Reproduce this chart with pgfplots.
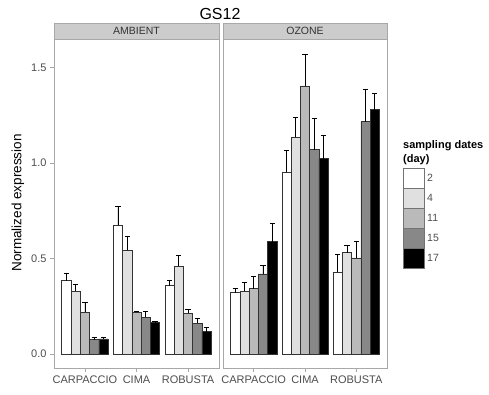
\documentclass[border=0pt]{standalone}
\usepackage{pgfplots}
\pgfplotsset{compat=1.18}
\usepackage{pgfplotstable}
\usepackage{fontspec}
\setmainfont{Liberation Sans}

\definecolor{cA}{HTML}{FFFFFF}
\definecolor{cB}{HTML}{E0E0E0}
\definecolor{cC}{HTML}{BABABA}
\definecolor{cD}{HTML}{888888}
\definecolor{cE}{HTML}{000000}
\definecolor{panelborder}{HTML}{A8A8A8}
\definecolor{stripfill}{HTML}{CCCCCC}
\definecolor{ticktext}{HTML}{4D4D4D}
\definecolor{barline}{HTML}{333333}

\pgfplotstableread{
x d2 e2 d4 e4 d11 e11 d15 e15 d17 e17
1 0.384 0.037 0.328 0.038 0.220 0.050 0.075 0.010 0.079 0.010
2 0.674 0.098 0.543 0.073 0.218 0.006 0.192 0.030 0.164 0.008
3 0.358 0.030 0.460 0.057 0.213 0.021 0.160 0.025 0.117 0.024
}\ambient

\pgfplotstableread{
x d2 e2 d4 e4 d11 e11 d15 e15 d17 e17
1 0.322 0.021 0.328 0.047 0.343 0.066 0.420 0.045 0.589 0.097
2 0.951 0.115 1.134 0.103 1.403 0.168 1.070 0.162 1.023 0.124
3 0.429 0.092 0.531 0.040 0.503 0.089 1.216 0.170 1.279 0.084
}\ozone

\pgfplotsset{
  panel/.style={
    scale only axis, height=329pt,
    xmin=0.4, xmax=3.6, ymin=-0.073, ymax=1.649,
    ybar, bar width=0.18,
    axis line style={panelborder, line width=0.7pt},
    xtick={1,2,3}, xticklabels={CARPACCIO,CIMA,ROBUSTA},
    xtick pos=bottom,
    tick align=outside, major tick length=4pt,
    tick style={panelborder, line width=0.7pt},
    ticklabel style={font=\fontsize{11}{13}\selectfont, text=ticktext},
    /pgf/number format/assume math mode=true,
    error bars/y dir=plus, error bars/y explicit,
    error bars/error bar style={line width=0.8pt, black},
    error bars/error mark=-,
    error bars/error mark options={rotate=90, line width=0.8pt, black, mark size=2.6pt},
  },
  bars/.style={draw=barline, line width=0.6pt, fill=#1},
}

\begin{document}
\begin{tikzpicture}
\useasboundingbox (0pt,0pt) rectangle (489pt,394pt);

% left panel
\begin{axis}[panel, at={(54pt,26pt)}, anchor=south west, width=165pt,
  ytick={0,0.5,1,1.5}, yticklabels={0.0,0.5,1.0,1.5}, ytick pos=left]
\addplot[bars=cA, bar shift=-0.36] table[x=x, y=d2, y error=e2]{\ambient};
\addplot[bars=cB, bar shift=-0.18] table[x=x, y=d4, y error=e4]{\ambient};
\addplot[bars=cC, bar shift=0] table[x=x, y=d11, y error=e11]{\ambient};
\addplot[bars=cD, bar shift=0.18] table[x=x, y=d15, y error=e15]{\ambient};
\addplot[bars=cE, bar shift=0.36] table[x=x, y=d17, y error=e17]{\ambient};
\end{axis}

% right panel
\begin{axis}[panel, at={(223pt,26pt)}, anchor=south west, width=164pt,
  ytick=\empty]
\addplot[bars=cA, bar shift=-0.36] table[x=x, y=d2, y error=e2]{\ozone};
\addplot[bars=cB, bar shift=-0.18] table[x=x, y=d4, y error=e4]{\ozone};
\addplot[bars=cC, bar shift=0] table[x=x, y=d11, y error=e11]{\ozone};
\addplot[bars=cD, bar shift=0.18] table[x=x, y=d15, y error=e15]{\ozone};
\addplot[bars=cE, bar shift=0.36] table[x=x, y=d17, y error=e17]{\ozone};
\end{axis}

% strips
\draw[fill=stripfill, draw=panelborder, line width=0.7pt] (54pt,355pt) rectangle (219pt,371pt);
\draw[fill=stripfill, draw=panelborder, line width=0.7pt] (223pt,355pt) rectangle (387pt,371pt);
\node[font=\fontsize{10.5}{12}\selectfont, text=black!80] at (136.5pt,363pt) {AMBIENT};
\node[font=\fontsize{10.5}{12}\selectfont, text=black!80] at (305pt,363pt) {OZONE};

% title and y label
\node[font=\fontsize{16}{19}\selectfont] at (220pt,380.5pt) {GS12};
\node[font=\fontsize{13.5}{16}\selectfont, rotate=90] at (18pt,191pt) {Normalized expression};

% legend
\node[font=\bfseries\fontsize{11}{13}\selectfont, anchor=base west, inner sep=0pt] at (403pt,245pt) {sampling dates};
\node[font=\bfseries\fontsize{11}{13}\selectfont, anchor=base west, inner sep=0pt] at (403pt,231pt) {(day)};
\foreach \c/\l [count=\i from 0] in {cA/2,cB/4,cC/11,cD/15,cE/17}{
  \draw[fill=\c, draw=black!55, line width=0.6pt] (403pt,{226pt-20pt*\i}) rectangle (424pt,{206pt-20pt*\i});
  \node[font=\fontsize{10.5}{12}\selectfont, text=ticktext, anchor=west, inner sep=0pt] at (427pt,{216pt-20pt*\i}) {\l};
}
\end{tikzpicture}
\end{document}
